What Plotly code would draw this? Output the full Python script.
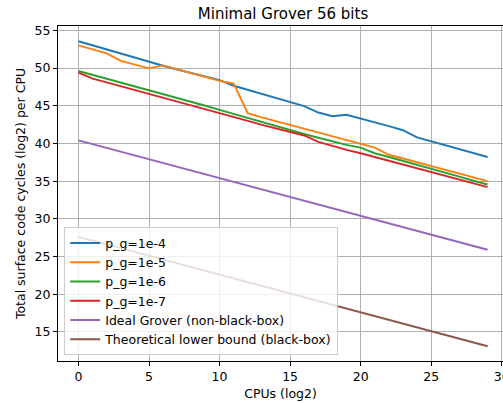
import plotly.graph_objects as go

cpus = list(range(30))

pg_1e4 = [53.55, 53.0, 52.45, 51.9, 51.3, 50.75, 50.3, 49.8, 49.35, 48.85,
          48.4, 47.65, 47.1, 46.55, 46.0, 45.5, 44.95, 44.1, 43.6, 43.8,
          43.25, 42.8, 42.3, 41.75, 40.8, 40.3, 39.8, 39.25, 38.7, 38.2]
pg_1e5 = [53.0, 52.5, 51.95, 50.95, 50.45, 49.95, 50.35, 49.85, 49.35, 48.85,
          48.3, 47.95, 44.0, 43.45, 42.95, 42.45, 41.95, 41.45, 40.95, 40.45,
          39.95, 39.45, 38.5, 38.0, 37.5, 37.0, 36.5, 36.0, 35.5, 35.0]
pg_1e6 = [49.6, 49.1, 48.55, 48.05, 47.5, 47.0, 46.5, 46.0, 45.5, 45.0,
          44.45, 43.9, 43.35, 42.8, 42.25, 41.75, 41.25, 40.75, 40.25, 39.8,
          39.45, 38.7, 38.2, 37.7, 37.2, 36.65, 36.1, 35.6, 35.05, 34.55]
pg_1e7 = [49.4, 48.6, 48.1, 47.6, 47.05, 46.55, 46.05, 45.55, 45.05, 44.55,
          44.05, 43.5, 43.0, 42.45, 41.95, 41.5, 41.05, 40.2, 39.65, 39.15,
          38.7, 38.2, 37.7, 37.2, 36.7, 36.2, 35.7, 35.2, 34.7, 34.2]
ideal = [40.4, 39.9, 39.4, 38.9, 38.4, 37.9, 37.4, 36.9, 36.4, 35.9,
         35.4, 34.9, 34.4, 33.9, 33.4, 32.9, 32.4, 31.9, 31.4, 30.9,
         30.4, 29.9, 29.4, 28.9, 28.4, 27.9, 27.4, 26.9, 26.4, 25.9]
lower = [27.6, 27.1, 26.6, 26.1, 25.6, 25.1, 24.6, 24.1, 23.6, 23.1,
         22.6, 22.1, 21.6, 21.1, 20.6, 20.1, 19.6, 19.1, 18.6, 18.1,
         17.6, 17.1, 16.6, 16.1, 15.6, 15.1, 14.6, 14.1, 13.6, 13.1]

series = [
    ("p_g=1e-4", pg_1e4, "#1f77b4"),
    ("p_g=1e-5", pg_1e5, "#ff7f0e"),
    ("p_g=1e-6", pg_1e6, "#2ca02c"),
    ("p_g=1e-7", pg_1e7, "#d62728"),
    ("Ideal Grover (non-black-box)", ideal, "#9467bd"),
    ("Theoretical lower bound (black-box)", lower, "#8c564b"),
]

x_ticks = [0, 5, 10, 15, 20, 25, 30]
y_ticks = [15, 20, 25, 30, 35, 40, 45, 50, 55]

FONT = "DejaVu Sans"

fig = go.Figure()
for name, vals, color in series:
    fig.add_trace(go.Scatter(x=cpus, y=vals, mode="lines", name=name,
                             line=dict(color=color, width=1.9)))

W, H = 503, 403
L, R, T, B = 58, 0, 26, 42

fig.update_layout(
    width=W, height=H,
    margin=dict(l=L, r=R, t=T, b=B, autoexpand=False),
    paper_bgcolor="white", plot_bgcolor="white",
    font=dict(family=FONT, size=12.5, color="black"),
    title=dict(text="Minimal Grover 56 bits", font=dict(size=15, family=FONT, color="black"),
               x=283 / W, xanchor="center", xref="container",
               y=1 - 14 / H, yanchor="middle", yref="container"),
    showlegend=True,
    legend=dict(x=0.014, y=0.017, xanchor="left", yanchor="bottom",
                bgcolor="rgba(255,255,255,0.8)", bordercolor="#cccccc", borderwidth=1,
                font=dict(size=12.5, family=FONT, color="black"),
                tracegroupgap=0),
)
fig.update_xaxes(
    range=[-1.45, 30.09], tickvals=x_ticks, ticks="outside", ticklen=4, tickwidth=1,
    tickcolor="black", showline=True, linecolor="black", linewidth=1, mirror=True,
    showgrid=True, gridcolor="#b0b0b0", gridwidth=1, zeroline=False,
    ticklabeloverflow="allow", automargin=False,
    title=dict(text="CPUs (log2)", font=dict(size=12.5, family=FONT), standoff=6),
    tickfont=dict(size=12.5, family=FONT),
)
fig.update_yaxes(
    range=[11.15, 55.57], tickvals=y_ticks, ticks="outside", ticklen=4, tickwidth=1,
    tickcolor="black", showline=True, linecolor="black", linewidth=1, mirror=False,
    showgrid=True, gridcolor="#b0b0b0", gridwidth=1, zeroline=False,
    automargin=False,
    title=dict(text="Total surface code cycles (log2) per CPU", font=dict(size=12.5, family=FONT), standoff=6),
    tickfont=dict(size=12.5, family=FONT),
)

fig.write_html("out.html", config={"displayModeBar": False},
               post_script="document.body.style.margin='0';document.body.style.overflow='hidden';")
